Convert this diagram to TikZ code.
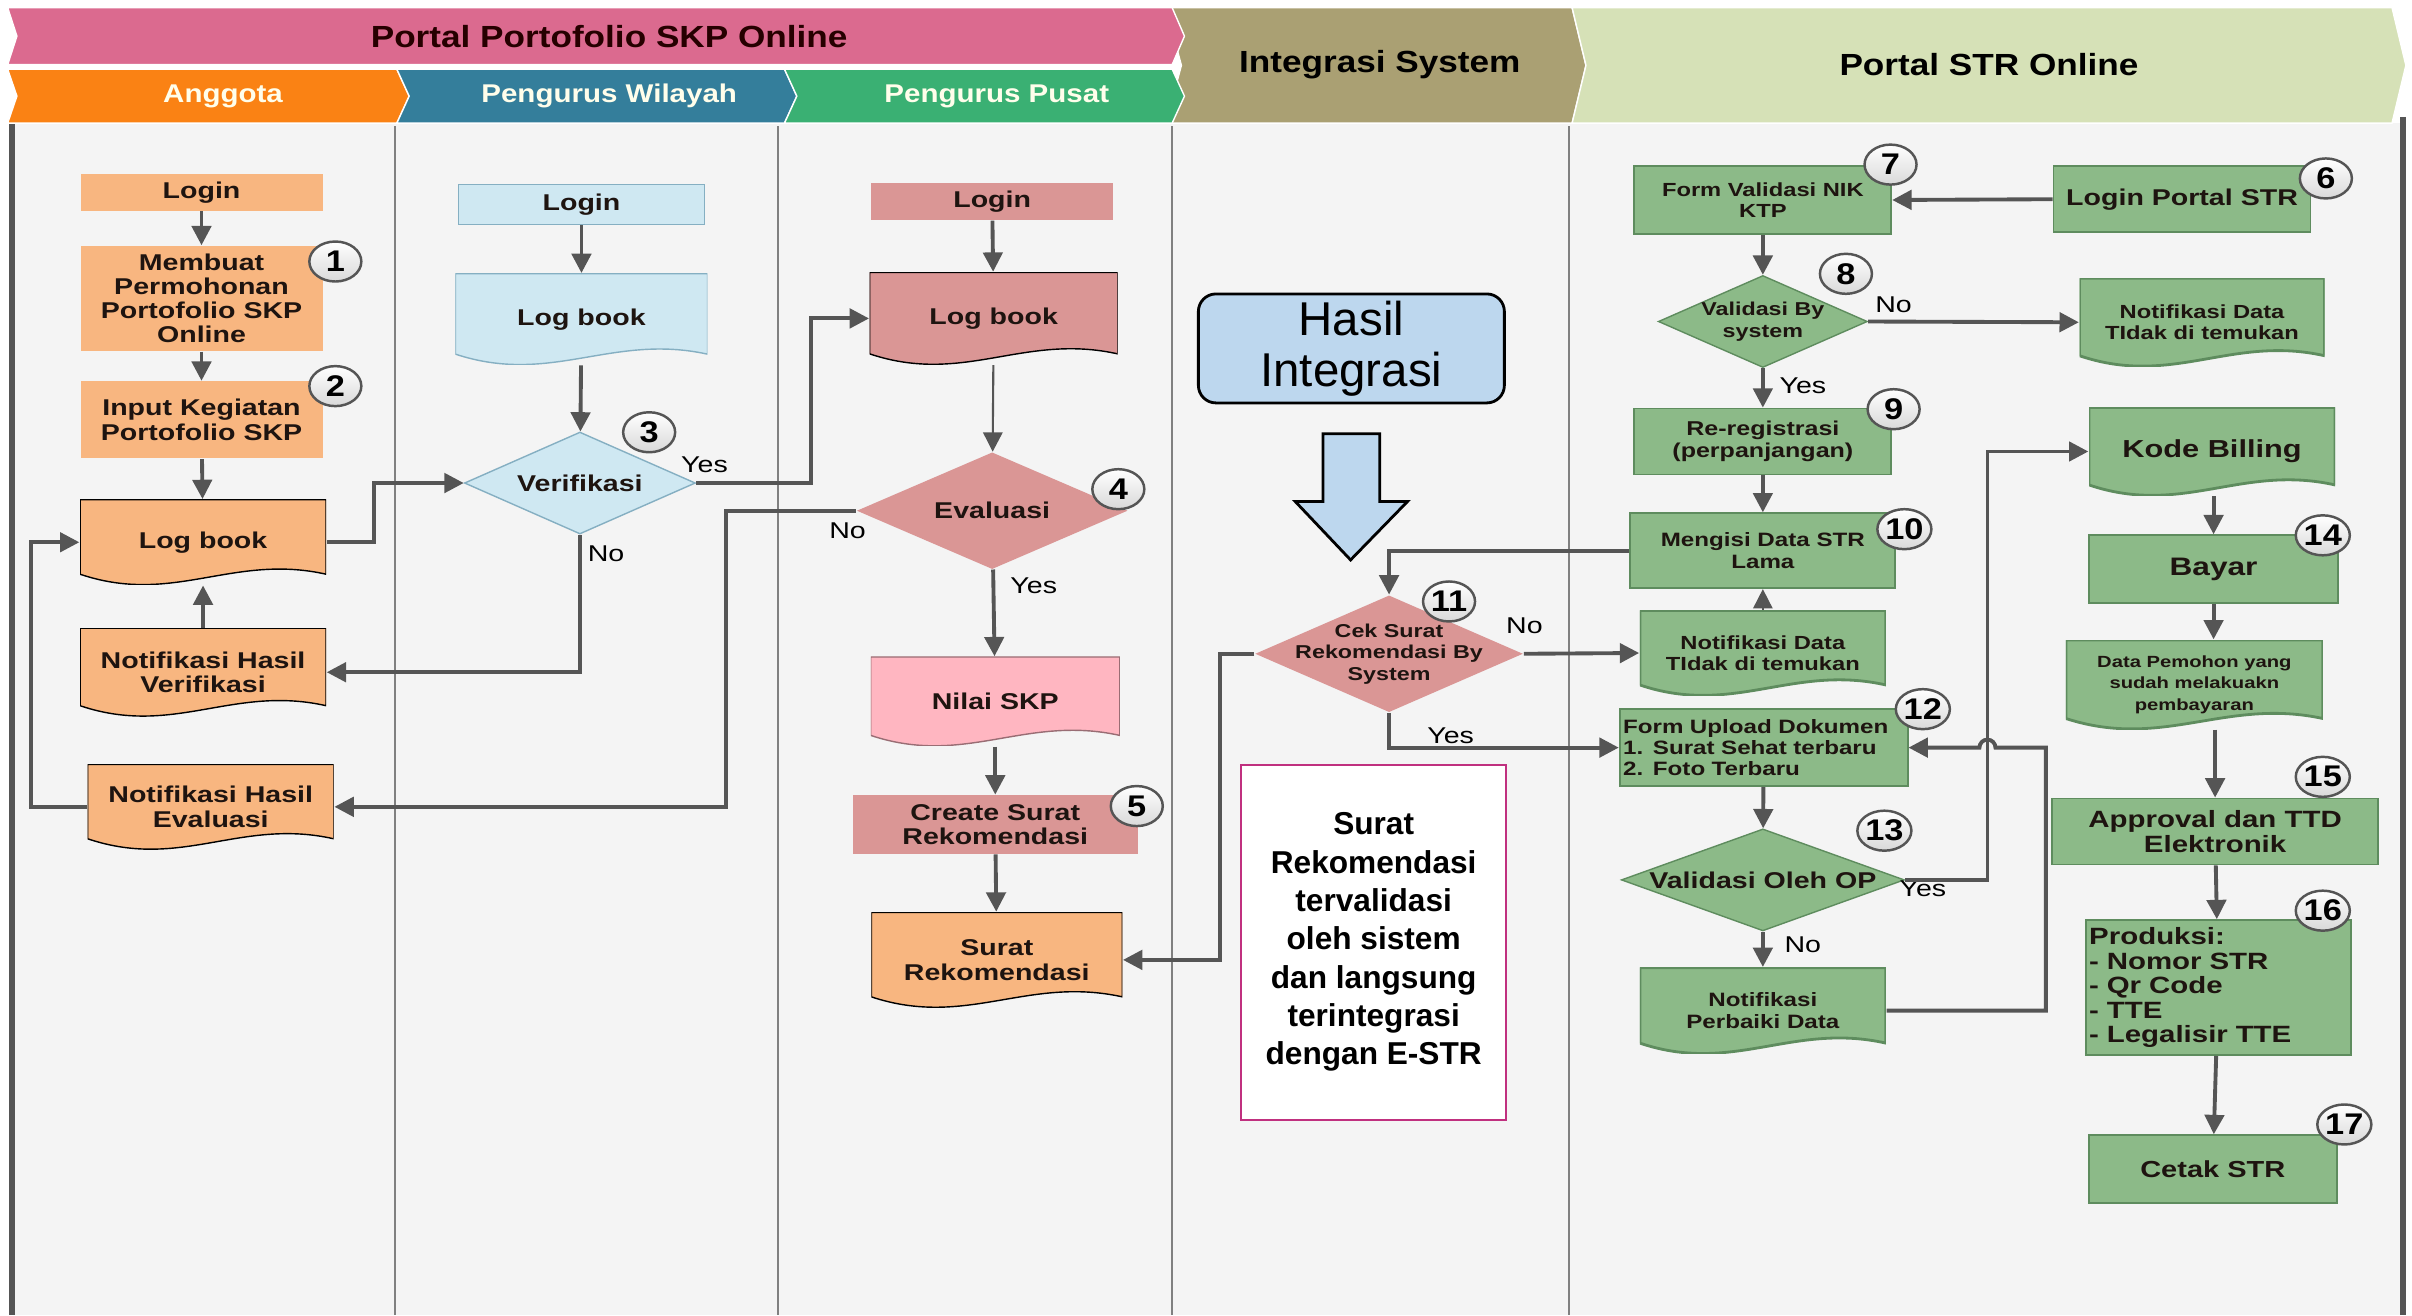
\documentclass[tikz,border=0pt]{standalone}
\usepackage{fontspec}
\setmainfont{Liberation Sans}
\newfontfamily\widefont{Liberation Sans}[FakeStretch=1.25]
\newfontfamily\headfont{Liberation Sans}[FakeStretch=1.15]
\usetikzlibrary{shapes.geometric,arrows.meta,calc}

\definecolor{hdrpink}{HTML}{DB6A8F}
\definecolor{hdrorange}{HTML}{FA8214}
\definecolor{hdrteal}{HTML}{347E9B}
\definecolor{hdrgreen}{HTML}{3AB073}
\definecolor{hdrkhaki}{HTML}{AAA073}
\definecolor{hdrlime}{HTML}{D6E1B7}
\definecolor{anggota}{HTML}{F8B680}
\definecolor{wilayah}{HTML}{CFE8F2}
\definecolor{wilayahdk}{HTML}{85AFC2}
\definecolor{pusat}{HTML}{DA9695}
\definecolor{nilai}{HTML}{FFB6C1}
\definecolor{strgreen}{HTML}{8CBA88}
\definecolor{strgreendk}{HTML}{5E8C5E}
\definecolor{hasil}{HTML}{BDD7EE}
\definecolor{notemag}{HTML}{C0307F}
\definecolor{conn}{HTML}{555555}
\definecolor{lane}{HTML}{F4F4F4}
\definecolor{ink}{HTML}{1E1410}

\tikzset{
  fs/.style 2 args={font=\widefont\bfseries\fontsize{#1}{#2}\selectfont},
  box/.style={rectangle, align=center, inner sep=1pt, text=ink, fs={6.5}{7}},
  gbox/.style={box, fill=strgreen, draw=strgreendk, line width=0.5pt},
  docu/.style={box, path picture={
    \filldraw[#1] (path picture bounding box.north west) -- (path picture bounding box.north east)
      -- ([yshift=3pt]path picture bounding box.south east)
      .. controls ($(path picture bounding box.south west)!0.62!(path picture bounding box.south east)+(0pt,9pt)$)
      and ($(path picture bounding box.south west)!0.38!(path picture bounding box.south east)+(0pt,-6pt)$)
      .. ([yshift=3pt]path picture bounding box.south west) -- cycle;}},
  gdoc/.style={docu={fill=strgreen,draw=strgreendk,line width=0.8pt}},
  dia/.style={diamond, aspect=2.3, inner xsep=-10pt, inner ysep=-3pt, align=center, text=ink, fs={6.5}{7}},
  badge/.style={ellipse, draw=conn, line width=0.7pt, top color=white, bottom color=black!15,
    minimum width=0.52cm, minimum height=0.4cm, inner sep=0pt,
    font=\headfont\bfseries\fontsize{8.5}{9}\selectfont},
  lbl/.style={inner sep=0pt, font=\widefont\fontsize{6.5}{7}\selectfont},
  hdr/.style={inner sep=0pt, font=\headfont\bfseries\fontsize{8.7}{9}\selectfont},
  sub/.style={inner sep=0pt, text=white!92!yellow, font=\headfont\bfseries\fontsize{7.3}{8}\selectfont},
  line/.style={draw=conn, line width=1.1pt},
  arr/.style={line, -{Triangle[length=5.5pt,width=5.5pt]}}
}

\begin{document}
\begin{tikzpicture}[x=0.15383mm, y=-0.15383mm]
\useasboundingbox (0,0) rectangle (1568,855);

% swimlanes
\fill[lane] (8,80) rectangle (1562,855);
\foreach \lx in {257,506,762,1020}
  \draw[gray, line width=0.6pt] (\lx,82) -- (\lx,855);
\draw[conn, line width=1.6pt] (8,80) -- (8,855);
\draw[conn, line width=1.6pt] (1562,76) -- (1562,855);

% header bands
\filldraw[fill=hdrkhaki, draw=white] (758,5) -- (1022,5) -- (1031,42.5) -- (1022,80) -- (758,80) -- (768,42.5) -- cycle;
\filldraw[fill=hdrlime, draw=white] (1022,5) -- (1555,5) -- (1564,42.5) -- (1555,80) -- (1022,80) -- (1031,42.5) -- cycle;
\filldraw[fill=hdrpink, draw=white] (5,5) -- (762,5) -- (770,23.5) -- (762,42) -- (5,42) -- (11,23.5) -- cycle;
\filldraw[fill=hdrorange, draw=white] (5,45) -- (258,45) -- (266,62.5) -- (258,80) -- (5,80) -- (11,62.5) -- cycle;
\filldraw[fill=hdrteal, draw=white] (258,45) -- (510,45) -- (518,62.5) -- (510,80) -- (258,80) -- (266,62.5) -- cycle;
\filldraw[fill=hdrgreen, draw=white] (510,45) -- (762,45) -- (770,62.5) -- (762,80) -- (510,80) -- (518,62.5) -- cycle;

\node[hdr, text=black!85!red] (PT) at (396,23.5) {Portal Portofolio SKP Online};
\node[sub] (AG) at (145,62.5) {Anggota};
\node[sub] (PW) at (396,62.5) {Pengurus Wilayah};
\node[sub] (PP) at (648,62.5) {Pengurus Pusat};
\node[hdr] (IS) at (897,42) {Integrasi System};
\node[hdr] (PS) at (1293,42) {Portal STR Online};

% Anggota
\node[box, fill=anggota, minimum width=2.42cm, minimum height=0.37cm] (AL) at (131,125) {Login};
\node[box, fill=anggota, minimum width=2.42cm, minimum height=1.05cm, fs={6.5}{6.8}] (AB) at (131,194) {Membuat\\Permohonan\\Portofolio SKP\\Online};
\node[box, fill=anggota, minimum width=2.42cm, minimum height=0.77cm] (AI) at (131,273) {Input Kegiatan\\Portofolio SKP};
\node[docu={fill=anggota}, minimum width=2.46cm, minimum height=0.85cm] (AK) at (132,352.5) {Log book};
\node[docu={fill=anggota}, minimum width=2.46cm, minimum height=0.88cm] (AV) at (132,437) {Notifikasi Hasil\\Verifikasi};
\node[docu={fill=anggota}, minimum width=2.46cm, minimum height=0.85cm] (AE) at (137,524.5) {Notifikasi Hasil\\Evaluasi};

% Pengurus Wilayah
\node[box, fill=wilayah, draw=wilayahdk, minimum width=2.46cm, minimum height=0.4cm] (WL) at (378,133) {Login};
\node[docu={fill=wilayah,draw=wilayahdk}, minimum width=2.52cm, minimum height=0.91cm] (WK) at (378,207.5) {Log book};
\node[dia, fill=wilayah, draw=wilayahdk, minimum width=2.31cm, minimum height=1.02cm] (WV) at (377,314) {Verifikasi};

% Pengurus Pusat
\node[box, fill=pusat, minimum width=2.42cm, minimum height=0.37cm] (PL) at (645,131) {Login};
\node[docu={fill=pusat}, minimum width=2.48cm, minimum height=0.92cm] (PK) at (646,207) {Log book};
\node[dia, fill=pusat, minimum width=2.71cm, minimum height=1.17cm] (PE) at (645,332) {Evaluasi};
\node[docu={fill=nilai,draw=nilai!60!black}, minimum width=2.49cm, minimum height=0.89cm] (PN) at (647,456) {Nilai SKP};
\node[box, fill=pusat, minimum width=2.85cm, minimum height=0.585cm] (PC) at (647,536) {Create Surat\\Rekomendasi};
\node[docu={fill=anggota}, minimum width=2.51cm, minimum height=0.95cm] (PS) at (648,624) {Surat\\Rekomendasi};

% Integrasi System
\node[draw, rounded corners=5pt, fill=hasil, line width=0.8pt, minimum width=3.06cm, minimum height=1.09cm,
  align=center, inner sep=0pt, font=\fontsize{13.5}{14.5}\selectfont] (HI) at (878.5,226.5) {Hasil\\Integrasi};
\filldraw[fill=hasil, draw=black, line width=0.8pt] (860,282) -- (897,282) -- (897,326) -- (915,326)
  -- (878,364) -- (842,326) -- (860,326) -- cycle;
\node[dia, fill=pusat, minimum width=2.68cm, minimum height=1.17cm, fs={5.3}{6.1}] (CS) at (903,425) {Cek Surat\\Rekomendasi By\\System};
\node[draw=notemag, fill=white, line width=0.5pt, minimum width=2.65cm, minimum height=3.55cm, align=center,
  font=\bfseries\fontsize{9}{10.9}\selectfont] (KT) at (893,612.5) {Surat\\Rekomendasi\\tervalidasi\\oleh sistem\\dan langsung\\terintegrasi\\dengan E-STR};

% Portal STR
\node[gbox, minimum width=2.57cm, minimum height=0.68cm, fs={5.4}{6.1}] (SF) at (1146,130) {Form Validasi NIK\\KTP};
\node[dia, fill=strgreen, draw=strgreendk, minimum width=2.09cm, minimum height=0.92cm, fs={5.3}{6.1}] (SV) at (1146,209) {Validasi By\\system};
\node[gbox, minimum width=2.57cm, minimum height=0.66cm, fs={5.7}{6.4}] (SR) at (1146,287) {Re-registrasi\\(perpanjangan)};
\node[gbox, minimum width=2.65cm, minimum height=0.75cm, fs={5.5}{6.2}] (SM) at (1146,358) {Mengisi Data STR\\Lama};
\node[gdoc, minimum width=2.46cm, minimum height=0.85cm, fs={5.4}{6.1}] (SN2) at (1146,424.5) {Notifikasi Data\\TIdak di temukan};
\node[gbox, text width=2.81cm, align=left, minimum height=0.77cm, fs={5.5}{6.1}] (SU) at (1146.5,486) {Form Upload Dokumen\\1. Surat Sehat terbaru\\2. Foto Terbaru};
\node[dia, fill=strgreen, draw=strgreendk, minimum width=2.83cm, minimum height=1.02cm] (SO) at (1146,572) {Validasi Oleh OP};
\node[gdoc, minimum width=2.46cm, minimum height=0.86cm, fs={5.5}{6.1}] (SP) at (1146,657) {Notifikasi\\Perbaiki Data};

\node[gbox, minimum width=2.57cm, minimum height=0.66cm] (SL) at (1418.5,129.5) {Login Portal STR};
\node[gdoc, minimum width=2.45cm, minimum height=0.88cm, fs={5.4}{6.1}] (SN1) at (1431.5,209.5) {Notifikasi Data\\TIdak di temukan};
\node[gdoc, minimum width=2.46cm, minimum height=0.88cm, fs={7}{7.5}] (SB) at (1438,293.5) {Kode Billing};
\node[gbox, minimum width=2.49cm, minimum height=0.68cm, fs={7.2}{7.5}] (SY) at (1439,370) {Bayar};
\node[gdoc, minimum width=2.57cm, minimum height=0.89cm, fs={4.6}{6.1}] (SD) at (1426.5,445) {Data Pemohon yang\\sudah melakuakn\\pembayaran};
\node[gbox, minimum width=3.26cm, minimum height=0.66cm, fs={6.7}{7}] (SA) at (1440,540.5) {Approval dan TTD\\Elektronik};
\node[gbox, text width=2.58cm, align=left, minimum height=1.35cm, fs={6.7}{7}] (SQ) at (1442,642) {Produksi:\\- Nomor STR\\- Qr Code\\- TTE\\- Legalisir TTE};
\node[gbox, minimum width=2.48cm, minimum height=0.68cm, fs={6.6}{7}] (SC) at (1438.5,760) {Cetak STR};

% step numbers
\node[badge] (B1) at (218,170) {1};
\node[badge] (B2) at (218,251) {2};
\node[badge] (B3) at (422,281) {3};
\node[badge] (B4) at (727,318) {4};
\node[badge] (B5) at (739,524) {5};
\node[badge] (B6) at (1512,116) {6};
\node[badge] (B7) at (1229,107) {7};
\node[badge] (B8) at (1200,178) {8};
\node[badge] (B9) at (1231,266) {9};
\node[badge] (B10) at (1238,344) {10};
\node[badge] (B11) at (942,391) {11};
\node[badge] (B12) at (1250,461) {12};
\node[badge] (B13) at (1225,540) {13};
\node[badge] (B14) at (1510,348) {14};
\node[badge] (B15) at (1510,505) {15};
\node[badge] (B16) at (1510,592) {16};
\node[badge] (B17) at (1524,731) {17};

% yes / no
\node[lbl] (Y3) at (458,302) {Yes};
\node[lbl] (N3) at (394,360) {No};
\node[lbl] (N4) at (551,345) {No};
\node[lbl] (Y4) at (672,381) {Yes};
\node[lbl] (N11) at (991,407) {No};
\node[lbl] (Y11) at (943,478) {Yes};
\node[lbl] (N8) at (1231,198) {No};
\node[lbl] (Y8) at (1172,251) {Yes};
\node[lbl] (Y13) at (1250,578) {Yes};
\node[lbl] (N13) at (1172,614) {No};

% connectors
\draw[arr] (AL) -- (AB);
\draw[arr] (AB) -- (AI);
\draw[arr] (AI) -- (AK);
\draw[arr] (AV) -- (AK);
\draw[arr] (AE.west) -- (20,524.5) |- (AK.west);
\draw[arr] (AK.east) -- (243,352.5) |- (WV.west);
\draw[arr] (WL) -- (WK);
\draw[arr] (WK) -- (WV);
\draw[arr] (WV.east) -- (527,314) |- (PK.west);
\draw[arr] (WV.south) |- (AV.east);
\draw[arr] (PL) -- (PK);
\draw[arr, line width=0.6pt] (PK) -- (PE);
\draw[arr] (PE) -- (PN);
\draw[arr] (PN) -- (PC);
\draw[arr] (PC) -- (PS);
\draw[arr] (PE.west) -- (472,332) |- (AE.east);
\draw[arr] (CS.west) -- (793,425) |- (PS.east);
\draw[arr] (SM.west) -| (CS.north);
\draw[arr] (CS.east) -- (SN2.west);
\draw[arr] (CS.south) |- (SU.west);
\draw[arr] (SL.west) -- (SF.east);
\draw[arr] (SF) -- (SV);
\draw[arr] (SV.east) -- (SN1.west);
\draw[arr] (SV) -- (SR);
\draw[arr] (SR) -- (SM);
\draw[arr, line width=0.5pt] (SN2) -- (SM);
\draw[arr] (SU) -- (SO);
\draw[arr] (SO.east) -- (1292,572) |- (SB.west);
\draw[arr] (SO) -- (SP);
\draw[arr] (SP.east) -- (1330,657) -- (1330,486) -- (1297.2,486)
  arc[start angle=0, end angle=180, radius=0.08cm] -- (SU.east);
\draw[arr] (SB.south -| SY.north) -- (SY.north);
\draw[arr] (SY.south) -- (SY.south |- SD.north);
\draw[arr] (SD.south -| SA.north) -- (SA.north);
\draw[arr] (SA) -- (SQ);
\draw[arr] (SQ) -- (SC);
\end{tikzpicture}
\end{document}
